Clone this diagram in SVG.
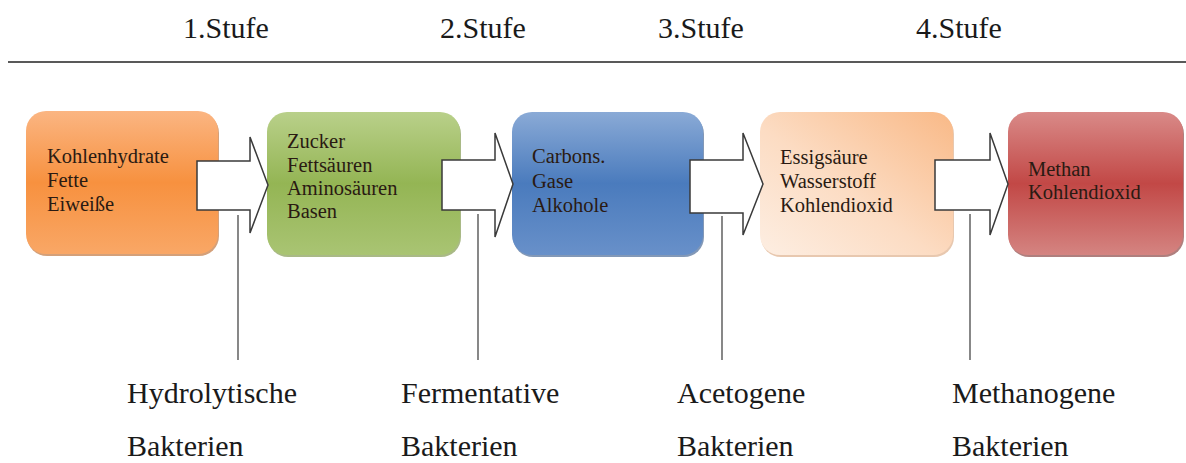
<svg xmlns="http://www.w3.org/2000/svg" width="1186" height="463" viewBox="0 0 1186 463">
<style>
.hdr{font-family:"Liberation Serif","Times New Roman",serif;font-size:30px;fill:#1a1a1a}
.lbl{font-family:"Liberation Serif","Times New Roman",serif;font-size:30px;fill:#1a1a1a}
.bt{font-family:"Liberation Serif","Times New Roman",serif;font-size:20.5px;fill:#2a1a12}
.arrow{fill:#ffffff;stroke:#3a3a3a;stroke-width:1.5;stroke-linejoin:miter}
.stem{stroke:#6a6a6a;stroke-width:1.6;fill:none}
.shadow{opacity:0.6}
</style>
<defs>
<linearGradient id="gOr" x1="0" y1="0" x2="0" y2="1">
<stop offset="0" stop-color="#fbb582"/><stop offset="0.5" stop-color="#f7913f"/><stop offset="1" stop-color="#f9a766"/>
</linearGradient>
<linearGradient id="gGr" x1="0" y1="0" x2="0" y2="1">
<stop offset="0" stop-color="#b9d08a"/><stop offset="0.5" stop-color="#94b554"/><stop offset="1" stop-color="#a9c473"/>
</linearGradient>
<linearGradient id="gBl" x1="0" y1="0" x2="0" y2="1">
<stop offset="0" stop-color="#8aaad6"/><stop offset="0.5" stop-color="#4a7bbd"/><stop offset="1" stop-color="#6890c9"/>
</linearGradient>
<linearGradient id="gPe" x1="1" y1="0" x2="0" y2="1">
<stop offset="0" stop-color="#f9b987"/><stop offset="0.55" stop-color="#fcdcc3"/><stop offset="1" stop-color="#fdeee2"/>
</linearGradient>
<linearGradient id="gRd" x1="0" y1="0" x2="0" y2="1">
<stop offset="0" stop-color="#d98a88"/><stop offset="0.5" stop-color="#c24846"/><stop offset="1" stop-color="#d48481"/>
</linearGradient>
</defs>
<rect width="1186" height="463" fill="#ffffff"/>
<line x1="8" y1="62" x2="1186" y2="62" stroke="#222" stroke-width="1.6"/>
<g id="stufe1"><text class="hdr" x="183" y="38">1.Stufe</text></g>
<g id="stufe2"><text class="hdr" x="440" y="38">2.Stufe</text></g>
<g id="stufe3"><text class="hdr" x="658" y="38">3.Stufe</text></g>
<g id="stufe4"><text class="hdr" x="916" y="38">4.Stufe</text></g>

<g id="node1">
<rect class="shadow" x="27" y="113" width="192" height="143" rx="20" fill="#b8611f"/>
<rect x="26" y="111" width="192" height="143" rx="20" fill="url(#gOr)"/>
<text class="bt" x="47" y="163">Kohlenhydrate</text>
<text class="bt" x="47" y="187">Fette</text>
<text class="bt" x="47" y="211">Eiweiße</text>
</g>
<g id="node2">
<rect class="shadow" x="268" y="114" width="193" height="143" rx="20" fill="#6f8a35"/>
<rect x="267" y="112" width="193" height="143" rx="20" fill="url(#gGr)"/>
<text class="bt" x="287" y="148">Zucker</text>
<text class="bt" x="287" y="172">Fettsäuren</text>
<text class="bt" x="287" y="195">Aminosäuren</text>
<text class="bt" x="287" y="218">Basen</text>
</g>
<g id="node3">
<rect class="shadow" x="513" y="114" width="191" height="143" rx="20" fill="#2e5387"/>
<rect x="512" y="112" width="191" height="143" rx="20" fill="url(#gBl)"/>
<text class="bt" x="532" y="163">Carbons.</text>
<text class="bt" x="532" y="188">Gase</text>
<text class="bt" x="532" y="212">Alkohole</text>
</g>
<g id="node4">
<rect class="shadow" x="761" y="114" width="193" height="143" rx="20" fill="#d9a47a"/>
<rect x="760" y="112" width="193" height="143" rx="20" fill="url(#gPe)"/>
<text class="bt" x="780" y="164">Essigsäure</text>
<text class="bt" x="780" y="188">Wasserstoff</text>
<text class="bt" x="780" y="212">Kohlendioxid</text>
</g>
<g id="node5">
<rect class="shadow" x="1009" y="114" width="175" height="143" rx="20" fill="#7a2a28"/>
<rect x="1008" y="112" width="175" height="143" rx="20" fill="url(#gRd)"/>
<text class="bt" x="1028" y="176">Methan</text>
<text class="bt" x="1028" y="199">Kohlendioxid</text>
</g>

<g id="connectors">
<polygon class="arrow" points="197,161 250,161 250,137 268,185 250,233 250,210 197,210"/>
<polygon class="arrow" points="442,160 495,160 495,133 513,184 495,237 495,210 442,210"/>
<polygon class="arrow" points="690,160 743,160 743,133 763,184 743,235 743,213 690,213"/>
<polygon class="arrow" points="935,160 990,160 990,133 1008,184 990,235 990,210 935,210"/>
<line class="stem" x1="238" y1="215" x2="238" y2="360"/>
<line class="stem" x1="478" y1="214" x2="478" y2="360"/>
<line class="stem" x1="722" y1="216" x2="722" y2="360"/>
<line class="stem" x1="970" y1="214" x2="970" y2="360"/>
</g>

<g id="bak1"><text class="lbl" x="127" y="403">Hydrolytische</text><text class="lbl" x="127" y="456">Bakterien</text></g>
<g id="bak2"><text class="lbl" x="401" y="403">Fermentative</text><text class="lbl" x="401" y="456">Bakterien</text></g>
<g id="bak3"><text class="lbl" x="677" y="403">Acetogene</text><text class="lbl" x="677" y="456">Bakterien</text></g>
<g id="bak4"><text class="lbl" x="952" y="403">Methanogene</text><text class="lbl" x="952" y="456">Bakterien</text></g>
</svg>
